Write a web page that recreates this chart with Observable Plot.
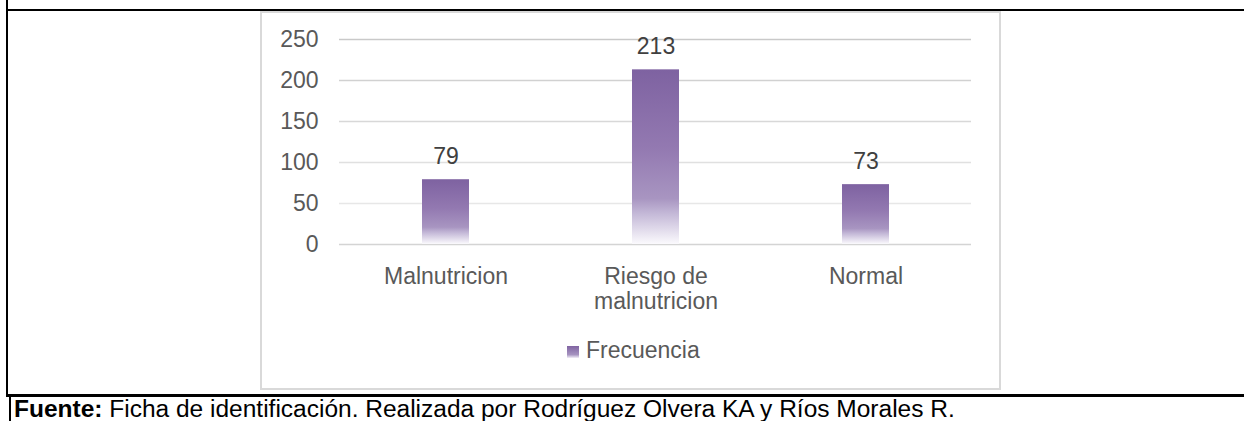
<!DOCTYPE html>
<html>
<head>
<meta charset="utf-8">
<script src="https://cdn.jsdelivr.net/npm/d3@7"></script>
<script src="https://cdn.jsdelivr.net/npm/@observablehq/plot@0.6"></script>
<style>
  html, body { margin: 0; padding: 0; background: #fff; overflow: hidden; }
  #page { position: relative; width: 1244px; height: 421px; overflow: hidden; font-family: "Liberation Sans", Arial, sans-serif; }
  .bl { position: absolute; background: #000; }
  #box { position: absolute; left: 260px; top: 11px; width: 741px; height: 379px; border: 2px solid #d9d9d9; box-sizing: border-box; }
  #chart { position: absolute; left: 0; top: 0; }
  #legend { position: absolute; left: 567px; top: 339px; height: 23px; line-height: 23px; font-size: 23px; color: #595959; white-space: nowrap; }
  #legend .sw { position: absolute; left: 0; top: 7px; width: 12px; height: 12px; background: linear-gradient(#8064a2, #a693c0 72%, #f2eff7); }
  #legend .lt { position: absolute; left: 19px; top: 0; }
  #footer { position: absolute; left: 14px; top: 397.5px; font-size: 23px; line-height: 23px; color: #000; white-space: nowrap; transform: scaleX(1.065); transform-origin: 0 0; }
</style>
</head>
<body>
<div id="page">
  <div class="bl" style="left:6px;top:0;width:2px;height:396px"></div>
  <div class="bl" style="left:9px;top:396px;width:2px;height:25px"></div>
  <div class="bl" style="left:6px;top:9px;width:1238px;height:2px"></div>
  <div class="bl" style="left:6px;top:394px;width:1238px;height:3px"></div>
  <div id="box"></div>
  <div id="chart"></div>
  <div id="legend"><span class="sw"></span><span class="lt"></span></div>
  <div id="footer"><b></b><span></span></div>
</div>
<script>
const categories = ["Malnutricion", "Riesgo de malnutricion", "Normal"];
const frecuencia = [79, 213, 73];
const yTicks = [0, 50, 100, 150, 200, 250];
const seriesName = "Frecuencia";
const footerLabel = "Fuente:";
const footerText = " Ficha de identificación. Realizada por Rodríguez Olvera KA y Ríos Morales R.";

const data = categories.map((c, i) => ({categoria: c, valor: frecuencia[i]}));

function gradientDefs() {
  const ns = "http://www.w3.org/2000/svg";
  const defs = document.createElementNS(ns, "defs");
  const lg = document.createElementNS(ns, "linearGradient");
  lg.setAttribute("id", "barGrad");
  lg.setAttribute("x1", "0"); lg.setAttribute("y1", "0");
  lg.setAttribute("x2", "0"); lg.setAttribute("y2", "1");
  [[0, "#7e62a1"], [0.45, "#9379b1"], [0.74, "#a895c1"], [0.82, "#c2b6d6"], [1, "#fbfafd"]].forEach(([o, c]) => {
    const s = document.createElementNS(ns, "stop");
    s.setAttribute("offset", o);
    s.setAttribute("stop-color", c);
    lg.appendChild(s);
  });
  defs.appendChild(lg);
  return defs;
}

const gridInterp = d3.interpolateRgb("#efefef", "#c9c9c9");

const chart = Plot.plot({
  width: 1244,
  height: 421,
  marginLeft: 339,
  marginRight: 273,
  marginTop: 39,
  marginBottom: 177,
  style: {background: "transparent", fontFamily: "'Liberation Sans', Arial, sans-serif", overflow: "visible"},
  x: {domain: categories, paddingInner: 0.777, paddingOuter: 0.3885, label: null},
  y: {domain: [0, 250], label: null},
  color: {type: "identity"},
  marks: [
    gradientDefs,
    Plot.ruleY(yTicks, {stroke: d => d === 0 ? "#d4d4d4" : gridInterp(d / 250), strokeWidth: 1.5}),
    Plot.barY(data, {x: "categoria", y: "valor", fill: "url(#barGrad)"}),
    Plot.text(data, {x: "categoria", y: "valor", text: d => String(d.valor), lineAnchor: "bottom", dy: -16, fontSize: 23, fill: "#404040"}),
    Plot.axisY({ticks: yTicks, tickSize: 0, tickPadding: 21, fontSize: 23, color: "#595959", label: null}),
    Plot.axisX({tickSize: 0, tickPadding: 22, fontSize: 23, color: "#595959", lineWidth: 8, lineHeight: 1.09, label: null})
  ]
});
document.getElementById("chart").appendChild(chart);
document.querySelector("#legend .lt").textContent = seriesName;
document.querySelector("#footer b").textContent = footerLabel;
document.querySelector("#footer span").textContent = footerText;
</script>
</body>
</html>
